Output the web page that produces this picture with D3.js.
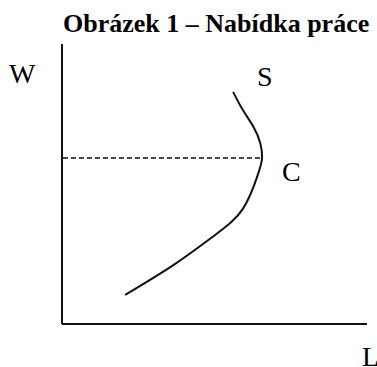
<!DOCTYPE html>
<html>
<head>
<meta charset="utf-8">
<script src="https://cdn.jsdelivr.net/npm/d3@7"></script>
<style>
  html, body { margin: 0; padding: 0; background: #fff; overflow: hidden; }
  svg { display: block; }
  text { font-family: "Liberation Serif", "Times New Roman", serif; fill: #000; }
</style>
</head>
<body>
<svg id="chart" width="377" height="367"></svg>
<script>
// labour supply curve (backward bending)
// L = labour, W = wage, arbitrary units 0..100
var supplyL = [20.7, 37.0, 50.2, 59.3, 64.3, 65.6, 65.0, 62.8, 59.3, 56.1];
var supplyW = [10.4, 21.4, 31.8, 41.1, 53.6, 59.3, 64.6, 70.4, 76.4, 82.9];
var turnIndex = 5; // point C, where the curve bends back
var titleText = "Obrázek 1 – Nabídka práce";
var axisLabels = ["W", "L"];
var curveLabels = ["S", "C"];

var svg = d3.select("#chart");

var x = d3.scaleLinear().domain([0, 100]).range([62, 367]);
var y = d3.scaleLinear().domain([0, 100]).range([324, 44]);

var pts = supplyL.map(function(d, i) { return [d, supplyW[i]]; });

// title
svg.append("text")
    .attr("x", 63)
    .attr("y", 32)
    .style("font-size", "26px")
    .style("font-weight", "bold")
    .text(titleText);

// axes (plain lines, no ticks)
svg.append("line")
    .attr("x1", x(0)).attr("y1", y(100))
    .attr("x2", x(0)).attr("y2", y(0))
    .attr("stroke", "#111").attr("stroke-width", 2);
svg.append("line")
    .attr("x1", x(0)).attr("y1", y(0))
    .attr("x2", x(100)).attr("y2", y(0))
    .attr("stroke", "#111").attr("stroke-width", 2);

// dashed wage level at C
svg.append("line")
    .attr("x1", x(0) + 1).attr("y1", y(supplyW[turnIndex]))
    .attr("x2", x(supplyL[turnIndex])).attr("y2", y(supplyW[turnIndex]))
    .attr("stroke", "#111").attr("stroke-width", 1.4)
    .attr("stroke-dasharray", "5,3");

// supply curve
var line = d3.line()
    .x(function(d) { return x(d[0]); })
    .y(function(d) { return y(d[1]); })
    .curve(d3.curveNatural);

svg.append("path")
    .datum(pts)
    .attr("d", line)
    .attr("fill", "none")
    .attr("stroke", "#111")
    .attr("stroke-width", 2);

// labels
var sTop = pts[pts.length - 1];
svg.append("text").attr("x", 9).attr("y", 83)
    .style("font-size", "28px").text(axisLabels[0]);
svg.append("text").attr("x", 362).attr("y", 366)
    .style("font-size", "28px").text(axisLabels[1]);
svg.append("text").attr("x", x(sTop[0]) + 24).attr("y", y(sTop[1]) - 6)
    .style("font-size", "28px").text(curveLabels[0]);
svg.append("text").attr("x", x(supplyL[turnIndex]) + 20).attr("y", y(supplyW[turnIndex]) + 23)
    .style("font-size", "28px").text(curveLabels[1]);
</script>
</body>
</html>
